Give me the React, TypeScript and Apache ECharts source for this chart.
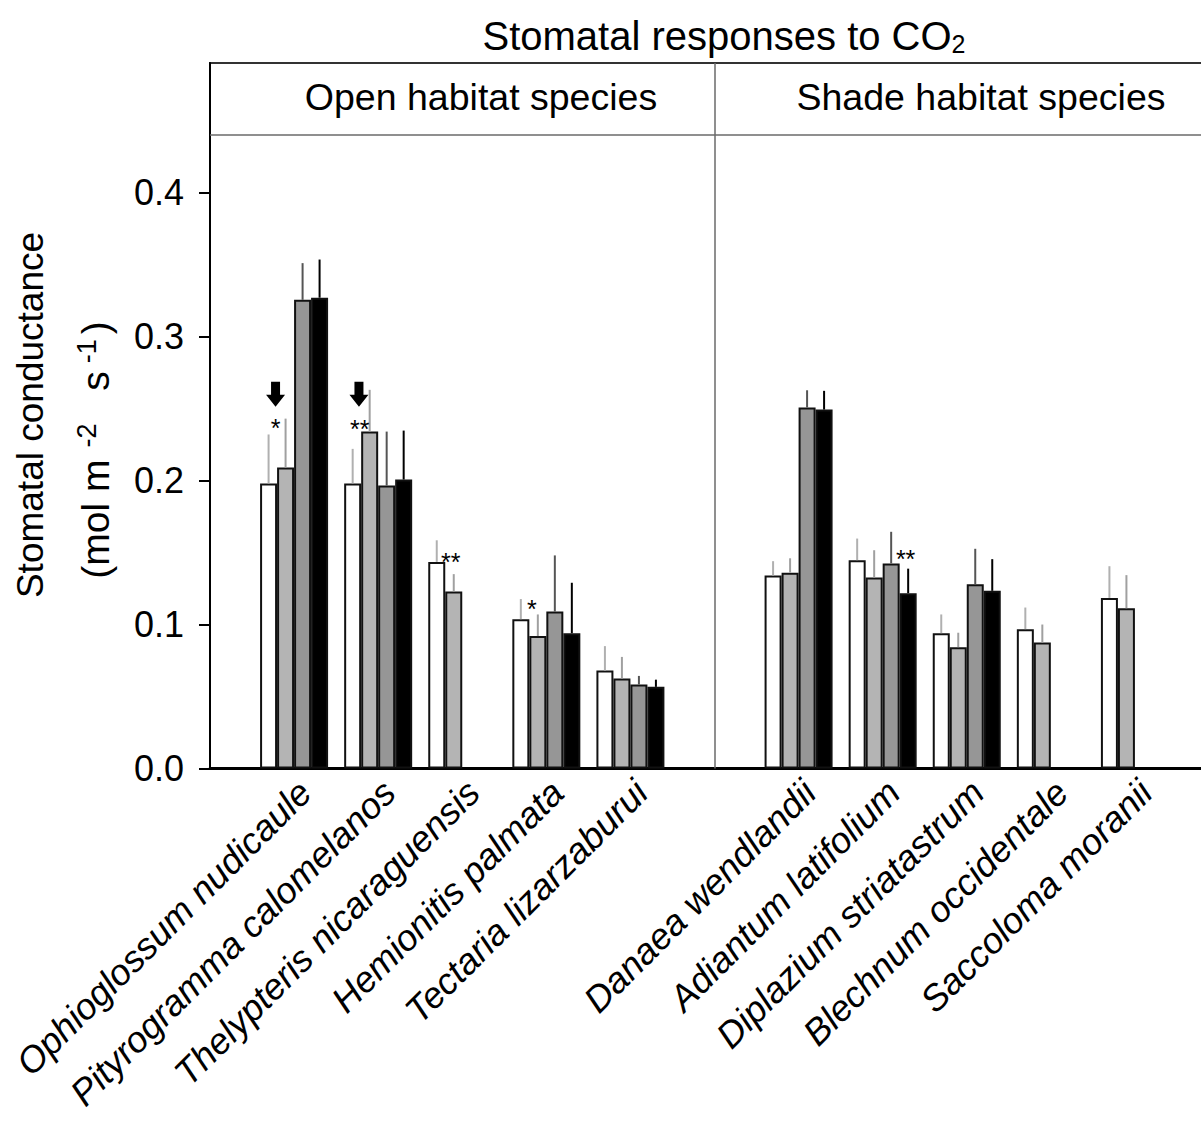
import React, { useEffect, useRef } from "react";
import * as echarts from "echarts";

// Category slots: blank slots pad the ends and separate the two habitat groups.
const species = [
  "",
  "Ophioglossum nudicaule",
  "Pityrogramma calomelanos",
  "Thelypteris nicaraguensis",
  "Hemionitis palmata",
  "Tectaria lizarzaburui",
  " ",
  "Danaea wendlandii",
  "Adiantum latifolium",
  "Diplazium striatastrum",
  "Blechnum occidentale",
  "Saccoloma moranii",
  "  ",
];

// Mean stomatal conductance (mol m-2 s-1) for the four treatments, and the standard errors.
const whiteMean = [null, 0.198, 0.198, 0.1435, 0.1037, 0.068, null, 0.134, 0.1447, 0.094, 0.0968, 0.1185, null];
const whiteSE = [null, 0.034, 0.024, 0.015, 0.014, 0.017, null, 0.01, 0.015, 0.013, 0.015, 0.022, null];
const lightMean = [null, 0.209, 0.234, 0.123, 0.092, 0.0625, null, 0.136, 0.1326, 0.0843, 0.0875, 0.1113, null];
const lightSE = [null, 0.034, 0.029, 0.012, 0.015, 0.015, null, 0.01, 0.019, 0.01, 0.0125, 0.023, null];
const darkMean = [null, 0.3255, 0.1965, null, 0.109, 0.0583, null, 0.2507, 0.1424, 0.128, null, null, null];
const darkSE = [null, 0.0255, 0.0375, null, 0.039, 0.006, null, 0.012, 0.022, 0.0246, null, null, null];
const blackMean = [null, 0.327, 0.2007, null, 0.094, 0.0567, null, 0.2493, 0.1218, 0.1234, null, null, null];
const blackSE = [null, 0.0265, 0.034, null, 0.035, 0.005, null, 0.013, 0.017, 0.022, null, null, null];

const yTicks = [0, 0.1, 0.2, 0.3, 0.4];

// Significance marks: level on the y scale, slot = offset in bar widths from the group centre.
const significance = [
  { species: "Ophioglossum nudicaule", mark: "*", level: 0.2408, slot: -1.09 },
  { species: "Pityrogramma calomelanos", mark: "**", level: 0.2398, slot: -1.09 },
  { species: "Thelypteris nicaraguensis", mark: "**", level: 0.1478, slot: -0.68 },
  { species: "Hemionitis palmata", mark: "*", level: 0.1151, slot: -0.85 },
  { species: "Adiantum latifolium", mark: "**", level: 0.1497, slot: 1.35 },
];

// Downward arrows: level of the arrow tip.
const arrows = [
  { species: "Ophioglossum nudicaule", level: 0.2513, slot: -1.09 },
  { species: "Pityrogramma calomelanos", level: 0.2513, slot: -1.13 },
];

const headerLevel = 0.4445;
const dividerSlot = 6;

const FONT = "Arial, 'Liberation Sans', Helvetica, sans-serif";
const BAR_W = 17;
const fills = ["#ffffff", "#b4b4b4", "#969696", "#000000"];
const errColors = ["#b0b0b0", "#a0a0a0", "#555555", "#000000"];

const means = [whiteMean, lightMean, darkMean, blackMean];
const ses = [whiteSE, lightSE, darkSE, blackSE];
const names = ["Treatment A", "Treatment B", "Treatment C", "Treatment D"];

export default function App() {
  const ref = useRef<HTMLDivElement>(null);

  useEffect(() => {
    const chart = echarts.init(ref.current!, null, { renderer: "svg" });

    const barSeries = means.map((m, k) => ({
      name: names[k],
      type: "bar",
      data: m,
      barWidth: BAR_W,
      barGap: "0%",
      itemStyle: { color: fills[k], borderColor: "#111", borderWidth: 2 },
      z: 2,
    }));

    const errData: number[][] = [];
    means.forEach((m, k) => {
      m.forEach((v, i) => {
        if (v != null && ses[k][i] != null) errData.push([i, v, v + (ses[k][i] as number), k]);
      });
    });

    const errorSeries = {
      type: "custom",
      data: errData,
      encode: { x: 0, y: 1 },
      z: 3,
      silent: true,
      renderItem: (_p: any, api: any) => {
        const k = api.value(3);
        const base = api.coord([api.value(0), api.value(1)]);
        const top = api.coord([api.value(0), api.value(2)]);
        const x = base[0] + (k - 1.5) * BAR_W;
        return {
          type: "line",
          shape: { x1: x, y1: base[1], x2: x, y2: top[1] },
          style: { stroke: errColors[k], lineWidth: 2 },
        };
      },
      markLine: {
        silent: true,
        symbol: "none",
        label: { show: false },
        lineStyle: { color: "#6a6a6a", width: 1.5, type: "solid" },
        data: [{ xAxis: dividerSlot }, { yAxis: headerLevel }],
      },
    };

    const starSeries = {
      type: "custom",
      data: significance.map((s) => [species.indexOf(s.species), s.level]),
      encode: { x: 0, y: 1 },
      z: 4,
      silent: true,
      renderItem: (p: any, api: any) => {
        const s = significance[p.dataIndex];
        const c = api.coord([api.value(0), api.value(1)]);
        return {
          type: "text",
          x: c[0] + s.slot * BAR_W,
          y: c[1] + 6,
          style: { text: s.mark, fill: "#000", font: `25px ${FONT}`, align: "center", verticalAlign: "middle" },
        };
      },
    };

    const arrowSeries = {
      type: "custom",
      data: arrows.map((a) => [species.indexOf(a.species), a.level]),
      encode: { x: 0, y: 1 },
      z: 4,
      silent: true,
      renderItem: (p: any, api: any) => {
        const a = arrows[p.dataIndex];
        const c = api.coord([api.value(0), api.value(1)]);
        const x = c[0] + a.slot * BAR_W;
        const y = c[1];
        return {
          type: "polygon",
          shape: {
            points: [
              [x - 4.5, y - 25],
              [x + 4.5, y - 25],
              [x + 4.5, y - 12],
              [x + 9.5, y - 12],
              [x, y],
              [x - 9.5, y - 12],
              [x - 4.5, y - 12],
            ],
          },
          style: { fill: "#000" },
        };
      },
    };

    // Slanted species names, anchored just under each category position on the baseline.
    const nameSeries = {
      type: "custom",
      data: species.map((_, i) => [i, 0]),
      encode: { x: 0, y: 1 },
      z: 5,
      silent: true,
      clip: false,
      renderItem: (p: any, api: any) => {
        const c = api.coord([api.value(0), 0]);
        return {
          type: "text",
          x: c[0] + 11,
          y: c[1] + 18,
          rotation: Math.PI / 4,
          style: {
            text: species[p.dataIndex].trim(),
            fill: "#000",
            font: `italic 36.5px ${FONT}`,
            align: "right",
            verticalAlign: "middle",
          },
        };
      },
    };

    const option = {
      animation: false,
      backgroundColor: "#ffffff",
      textStyle: { fontFamily: FONT },
      grid: {
        left: 210,
        right: -18,
        top: 63,
        bottom: 377.5,
        outerBoundsMode: "none",
        containLabel: false,
        show: true,
        borderColor: "#333",
        borderWidth: 2,
        backgroundColor: "transparent",
      },
      xAxis: {
        type: "category",
        data: species,
        boundaryGap: false,
        axisLine: { show: true, lineStyle: { color: "#000", width: 3 } },
        axisTick: { show: false },
        axisLabel: { show: false },
        splitLine: { show: false },
      },
      yAxis: {
        type: "value",
        min: 0,
        max: 0.49,
        interval: 0.1,
        axisLine: { show: true, lineStyle: { color: "#000", width: 2 } },
        axisTick: {
          show: true,
          inside: false,
          length: 11,
          lineStyle: { color: "#000", width: 2 },
          customValues: yTicks,
        },
        axisLabel: {
          customValues: yTicks,
          formatter: (v: number) => v.toFixed(1),
          fontSize: 36,
          color: "#000",
          margin: 26,
          fontFamily: FONT,
        },
        splitLine: { show: false },
      },
      series: [...barSeries, errorSeries, starSeries, arrowSeries, nameSeries],
      graphic: [
        {
          type: "text",
          x: 724,
          y: 36,
          style: {
            text: "Stomatal responses to CO{sub|2}",
            font: `40px ${FONT}`,
            fill: "#000",
            align: "center",
            verticalAlign: "middle",
            rich: { sub: { fontSize: 25, verticalAlign: "bottom", fontFamily: FONT } },
          },
        },
        {
          type: "text",
          x: 481,
          y: 97,
          style: { text: "Open habitat species", font: `37.5px ${FONT}`, fill: "#000", align: "center", verticalAlign: "middle" },
        },
        {
          type: "text",
          x: 981,
          y: 97,
          style: { text: "Shade habitat species", font: `37.5px ${FONT}`, fill: "#000", align: "center", verticalAlign: "middle" },
        },
        {
          type: "text",
          x: 30,
          y: 415,
          rotation: Math.PI / 2,
          style: { text: "Stomatal conductance", font: `37px ${FONT}`, fill: "#000", align: "center", verticalAlign: "middle" },
        },
        {
          type: "text",
          x: 95,
          y: 450,
          rotation: Math.PI / 2,
          style: {
            text: "(mol m{supA|-2} s{supB|-1})",
            font: `39px ${FONT}`,
            fill: "#000",
            align: "center",
            verticalAlign: "middle",
            rich: {
              supA: { fontSize: 27, verticalAlign: "top", padding: [0, 22, 16, 12], fontFamily: FONT },
              supB: { fontSize: 27, verticalAlign: "top", padding: [0, 5, 16, 8], fontFamily: FONT },
            },
          },
        },
      ],
    };

    chart.setOption(option as any);
    return () => chart.dispose();
  }, []);

  return (
    <div
      ref={ref}
      style={{ position: "fixed", left: 0, top: 0, width: 1201, height: 1146, background: "#fff" }}
    />
  );
}
